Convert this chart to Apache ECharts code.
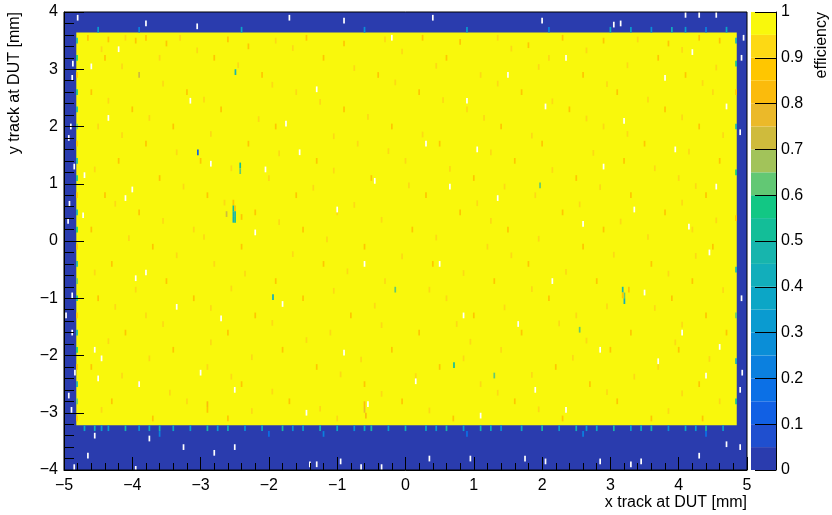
<!DOCTYPE html>
<html>
<head>
<meta charset="utf-8">
<script src="https://cdn.jsdelivr.net/npm/echarts@6/dist/echarts.min.js"></script>
<style>html,body{margin:0;padding:0;background:#fff;}#c{width:832px;height:515px;}</style>
</head>
<body>
<div id="c"></div>
<script>
// ---------------- data ----------------
// big uniform blocks: [x0, x1, y0, y1] and efficiency
const blockX0 = [-5, -4.82];
const blockX1 = [5, 4.85];
const blockY0 = [-4, -3.22];
const blockY1 = [4, 3.64];
const blockEff = [0.0, 0.99];

// bin size of the histogram (mm)
const binW = 0.025;
const binH = 0.1;

// empty bins (no tracks) : [x, y]
const emptyBins = [
  [-4.6,3.05],[-4.35,2.15],[-4.0,0.9],[-3.8,-0.55],[-4.55,-1.9],[-4.45,-2.05],[-3.9,-2.5],[-3.15,2.45],
  [-2.85,1.35],[-2.05,1.25],[-2.7,-1.35],[-2.5,-2.6],[-1.8,-1.1],[-1.3,2.65],[-1.0,0.55],[-0.6,-0.4],
  [-0.55,-2.85],[-0.2,3.55],[0.3,1.7],[0.5,-0.4],[0.9,2.45],[1.05,1.6],[1.35,0.75],[1.65,-1.45],
  [1.9,-2.6],[2.15,-0.7],[2.35,3.2],[2.6,0.3],[2.85,-1.9],[3.2,2.1],[3.5,-0.9],[3.7,-2.1],[3.95,1.6],
  [4.15,0.25],[4.45,-0.2],[4.6,-1.85],[4.4,-2.35],[4.2,3.3],[1.1,-3.05],[-1.45,-3.0],[-4.2,3.35],
  [-4.1,0.75],[-3.95,-0.65],[-4.5,-2.4],[-3.0,-2.3],[-1.75,2.05],[-0.45,1.05],[0.85,-1.3],[2.9,1.3],
  [3.8,2.85],[4.55,0.95],[4.05,-1.6],[-2.2,0.15],[-0.9,-1.95],[0.15,-2.45],[1.5,2.9],[2.35,-2.95],
  [-4.7,1.15],[-4.72,0.45],[-3.35,-1.15],[-1.55,1.55],[0.65,0.95],[2.05,2.35],[3.35,0.55],[4.7,2.35],
  // blue surroundings
  [-4.8,3.9],[-3.8,3.8],[-3.05,3.75],[-1.7,3.9],[0.4,3.9],[3.05,3.78],[4.1,3.95],[4.3,3.95],[4.55,3.95],
  [3.15,3.8],[2.0,3.85],[-0.9,3.85],
  [-4.65,-3.75],[-4.55,-3.4],[-3.75,-3.45],[-3.25,-3.6],[-2.8,-3.7],[-2.5,-3.6],[-1.4,-3.9],[-1.3,-3.9],
  [-0.95,-3.85],[-0.65,-3.95],[-0.35,-3.95],[0.35,-3.8],[0.95,-3.8],[1.75,-3.8],[2.05,-3.85],[2.85,-3.85],
  [3.3,-3.9],[3.45,-3.85],[4.3,-3.75],[4.7,-3.55],[4.9,-3.6],[-4.85,-3.95],[-3.95,-3.98],
  [-4.87,3.1],[-4.88,2.85],[-4.93,1.8],[-4.92,0.65],[-4.94,0.35],[-4.88,-0.95],[-4.97,-1.3],[-4.88,-1.6],
  [-4.84,-2.3],[-4.93,-2.7],[-4.89,-2.95],[-4.85,1.3],[-4.9,2.0],
  [4.92,3.2],[4.9,1.9],[4.92,-1.0],[4.93,-2.3],[4.9,-2.6],[4.95,3.55]
];

// bins with reduced efficiency : [x, y, efficiency]
const lowBins = [
  // streaks inside the sensor
  [-4.65,3.55,0.87],[-4.35,3.52,0.87],[-4.1,3.55,0.9],[-3.95,3.5,0.87],[-3.8,3.55,0.87],[-3.5,3.45,0.87],
  [-3.3,3.55,0.9],[-2.6,3.52,0.87],[-2.3,3.4,0.87],[-1.9,3.5,0.9],[-1.45,3.55,0.87],[-0.9,3.45,0.87],
  [-0.3,3.52,0.9],[0.25,3.55,0.87],[0.8,3.48,0.87],[1.35,3.55,0.9],[1.8,3.42,0.87],[2.3,3.55,0.87],
  [2.9,3.5,0.87],[3.4,3.52,0.9],[3.85,3.45,0.87],[4.3,3.55,0.87],[4.6,3.5,0.87],
  [-4.4,3.2,0.87],[-3.6,3.2,0.9],[-2.8,3.2,0.87],[-1.2,3.2,0.87],[0.6,3.2,0.87],[2.1,3.2,0.9],[3.7,3.2,0.87],
  [-3.9,2.9,0.72],[-2.1,2.9,0.87],[-0.4,2.9,0.87],[1.1,2.9,0.9],[2.6,2.9,0.87],[4.1,2.9,0.87],
  [-4.6,2.6,0.87],[-3.2,2.6,0.87],[-1.6,2.6,0.9],[0.2,2.6,0.87],[1.7,2.6,0.87],[3.1,2.6,0.87],[4.5,2.6,0.9],
  [-4.0,2.3,0.87],[-2.7,2.3,0.87],[-0.9,2.3,0.87],[0.9,2.3,0.9],[2.4,2.3,0.87],[3.8,2.3,0.87],
  [-4.5,2.0,0.9],[-3.4,2.0,0.87],[-1.9,2.0,0.87],[-0.2,2.0,0.87],[1.4,2.0,0.87],[2.9,2.0,0.9],[4.3,2.0,0.87],
  [-3.8,1.7,0.87],[-2.3,1.7,0.87],[-0.7,1.7,0.9],[0.5,1.7,0.87],[2.0,1.7,0.87],[3.5,1.7,0.87],
  [-4.2,1.4,0.87],[-3.0,1.4,0.87],[-1.3,1.4,0.87],[0.0,1.4,0.9],[1.6,1.4,0.87],[3.2,1.4,0.87],[4.6,1.4,0.87],
  [-3.6,1.1,0.87],[-2.0,1.1,0.9],[-0.5,1.1,0.87],[1.0,1.1,0.87],[2.5,1.1,0.87],[4.0,1.1,0.9],
  [-4.4,0.8,0.87],[-2.9,0.8,0.87],[-1.6,0.8,0.87],[0.3,0.8,0.87],[1.9,0.8,0.9],[3.3,0.8,0.87],[4.4,0.8,0.87],
  [-3.9,0.5,0.87],[-2.2,0.5,0.87],[-1.0,0.5,0.9],[0.8,0.5,0.87],[2.3,0.5,0.87],[3.8,0.5,0.87],
  [-4.6,0.2,0.87],[-3.1,0.2,0.9],[-1.5,0.2,0.87],[0.1,0.2,0.87],[1.5,0.2,0.87],[2.9,0.2,0.87],[4.2,0.2,0.9],
  [-3.7,-0.1,0.87],[-2.4,-0.1,0.87],[-0.6,-0.1,0.87],[1.2,-0.1,0.9],[2.6,-0.1,0.87],[4.5,-0.1,0.87],
  [-4.3,-0.4,0.87],[-2.8,-0.4,0.9],[-1.2,-0.4,0.87],[0.4,-0.4,0.87],[1.8,-0.4,0.87],[3.6,-0.4,0.87],
  [-3.5,-0.7,0.87],[-1.9,-0.7,0.87],[-0.3,-0.7,0.9],[1.3,-0.7,0.87],[2.8,-0.7,0.87],[4.2,-0.7,0.87],
  [-4.5,-1.0,0.87],[-3.1,-1.0,0.87],[-1.5,-1.0,0.87],[0.6,-1.0,0.9],[2.1,-1.0,0.87],[3.9,-1.0,0.87],
  [-3.8,-1.3,0.9],[-2.2,-1.3,0.87],[-0.8,-1.3,0.87],[1.0,-1.3,0.87],[2.5,-1.3,0.9],[4.4,-1.3,0.87],
  [-4.1,-1.6,0.87],[-2.6,-1.6,0.87],[-1.1,-1.6,0.9],[0.2,-1.6,0.87],[1.7,-1.6,0.87],[3.3,-1.6,0.87],[4.7,-1.6,0.87],
  [-3.4,-1.9,0.87],[-1.8,-1.9,0.87],[-0.2,-1.9,0.87],[1.4,-1.9,0.9],[3.0,-1.9,0.87],[4.0,-1.9,0.87],
  [-4.6,-2.2,0.87],[-2.9,-2.2,0.9],[-1.3,-2.2,0.87],[0.5,-2.2,0.87],[2.2,-2.2,0.87],[3.7,-2.2,0.9],
  [-3.9,-2.5,0.87],[-2.4,-2.5,0.87],[-0.6,-2.5,0.87],[1.1,-2.5,0.9],[2.7,-2.5,0.87],[4.3,-2.5,0.87],
  [-4.3,-2.8,0.87],[-3.2,-2.8,0.9],[-1.7,-2.8,0.87],[-0.05,-2.8,0.87],[1.6,-2.8,0.87],[3.1,-2.8,0.87],[4.6,-2.8,0.9],
  [-3.7,-3.1,0.87],[-2.6,-3.1,0.87],[-1.0,-3.1,0.9],[0.7,-3.1,0.87],[2.3,-3.1,0.87],[3.6,-3.1,0.87],
  [-0.6,-2.85,0.8],[-0.6,-2.95,0.78],[-0.58,-3.05,0.8],[-2.9,-2.85,0.8],[-2.9,-2.95,0.85],
  // further pale streaks (between the rows above)
  [-4.45,3.35,0.92],[-3.05,3.33,0.92],[-1.65,3.37,0.92],[-0.05,3.31,0.92],[1.55,3.36,0.92],[2.65,3.33,0.92],[4.05,3.34,0.92],
  [-4.15,3.05,0.92],[-2.45,3.07,0.92],[-0.75,3.02,0.92],[0.45,3.06,0.92],[1.95,3.04,0.92],[3.25,3.07,0.92],[4.55,3.03,0.92],
  [-3.55,2.75,0.92],[-1.95,2.73,0.92],[-0.15,2.77,0.92],[1.35,2.75,0.92],[2.95,2.74,0.92],[4.35,2.76,0.92],
  [-4.35,2.45,0.92],[-2.95,2.47,0.92],[-1.25,2.43,0.92],[0.55,2.46,0.92],[2.15,2.44,0.92],[3.55,2.47,0.92],
  [-3.75,2.15,0.92],[-2.15,2.13,0.92],[-0.55,2.17,0.92],[1.15,2.15,0.92],[2.65,2.14,0.92],[4.05,2.16,0.92],
  [-4.15,1.85,0.92],[-2.85,1.87,0.92],[-1.05,1.83,0.92],[0.25,1.86,0.92],[1.85,1.84,0.92],[3.25,1.87,0.92],[4.65,1.85,0.92],
  [-3.35,1.55,0.92],[-1.85,1.53,0.92],[-0.25,1.57,0.92],[1.25,1.55,0.92],[2.75,1.54,0.92],[4.15,1.56,0.92],
  [-4.55,1.25,0.92],[-2.55,1.27,0.92],[-1.05,1.23,0.92],[0.65,1.26,0.92],[2.15,1.24,0.92],[3.65,1.27,0.92],
  [-3.25,0.95,0.92],[-1.35,0.93,0.92],[0.05,0.97,0.92],[1.45,0.95,0.92],[2.85,0.94,0.92],[4.25,0.96,0.92],
  [-4.25,0.65,0.92],[-2.65,0.67,0.92],[-0.75,0.63,0.92],[1.05,0.66,0.92],[2.55,0.64,0.92],[4.05,0.67,0.92],
  [-3.55,0.35,0.92],[-1.85,0.33,0.92],[-0.35,0.37,0.92],[1.25,0.35,0.92],[3.15,0.34,0.92],[4.55,0.36,0.92],
  [-4.05,0.05,0.92],[-2.95,0.07,0.92],[-1.15,0.03,0.92],[0.45,0.06,0.92],[1.95,0.04,0.92],[3.55,0.07,0.92],
  [-3.35,-0.25,0.92],[-1.65,-0.23,0.92],[-0.05,-0.27,0.92],[1.55,-0.25,0.92],[3.05,-0.24,0.92],[4.25,-0.26,0.92],
  [-4.55,-0.55,0.92],[-2.35,-0.57,0.92],[-0.85,-0.53,0.92],[0.85,-0.56,0.92],[2.35,-0.54,0.92],[3.85,-0.57,0.92],
  [-3.95,-0.85,0.92],[-2.55,-0.83,0.92],[-1.05,-0.87,0.92],[0.35,-0.85,0.92],[1.85,-0.84,0.92],[4.65,-0.86,0.92],
  [-4.25,-1.15,0.92],[-2.85,-1.17,0.92],[-0.45,-1.13,0.92],[1.45,-1.16,0.92],[2.95,-1.14,0.92],[3.65,-1.17,0.92],
  [-3.55,-1.45,0.92],[-1.95,-1.43,0.92],[-0.35,-1.47,0.92],[0.75,-1.45,0.92],[2.25,-1.44,0.92],[4.05,-1.46,0.92],
  [-4.35,-1.75,0.92],[-2.85,-1.77,0.92],[-1.45,-1.73,0.92],[0.95,-1.76,0.92],[2.65,-1.74,0.92],[3.95,-1.77,0.92],
  [-3.75,-2.05,0.92],[-2.25,-2.03,0.92],[-0.65,-2.07,0.92],[0.85,-2.05,0.92],[2.45,-2.04,0.92],[4.45,-2.06,0.92],
  [-4.15,-2.35,0.92],[-2.55,-2.37,0.92],[-0.95,-2.33,0.92],[0.15,-2.36,0.92],[1.85,-2.34,0.92],[3.35,-2.37,0.92],
  [-3.45,-2.65,0.92],[-1.95,-2.63,0.92],[-0.35,-2.67,0.92],[1.35,-2.65,0.92],[2.95,-2.64,0.92],[4.05,-2.66,0.92],
  [-4.45,-2.95,0.92],[-2.25,-2.97,0.92],[-1.25,-2.93,0.92],[0.35,-2.96,0.92],[1.95,-2.94,0.92],[3.85,-2.97,0.92],[4.35,-3.1,0.87],
  // local defects
  [-2.52,0.67,0.85],[-2.52,0.57,0.5],[-2.52,0.47,0.45],[-2.52,0.37,0.4],[-2.495,0.57,0.85],
  [-2.495,0.47,0.45],[-2.495,0.37,0.5],[-2.62,0.47,0.72],[-2.4,0.42,0.85],
  [-2.42,1.32,0.5],[-2.42,1.22,0.6],
  [3.18,-0.85,0.45],[3.205,-0.95,0.6],[3.205,-1.05,0.4],[3.18,-0.95,0.85],[3.27,-0.85,0.87],
  [-3.04,1.55,0.12],[1.97,0.97,0.62],[0.71,-2.17,0.5],[-1.94,-0.98,0.4],[-2.49,2.95,0.45],
  [2.55,-1.55,0.62],[-0.15,-0.85,0.62],[1.3,-2.35,0.62],
  // left edge column
  [-4.81,3.5,0.45],[-4.81,3.2,0.55],[-4.81,2.9,0.85],[-4.81,2.6,0.5],[-4.81,2.3,0.45],[-4.81,2.0,0.6],
  [-4.81,1.7,0.85],[-4.81,1.4,0.45],[-4.81,1.1,0.5],[-4.81,0.8,0.85],[-4.81,0.5,0.4],[-4.81,0.2,0.55],
  [-4.81,-0.1,0.85],[-4.81,-0.4,0.45],[-4.81,-0.7,0.6],[-4.81,-1.0,0.5],[-4.81,-1.3,0.85],[-4.81,-1.6,0.45],
  [-4.81,-1.9,0.55],[-4.81,-2.2,0.85],[-4.81,-2.5,0.4],[-4.81,-2.8,0.6],[-4.81,-3.1,0.85],
  // right edge column
  [4.84,3.5,0.4],[4.84,3.1,0.5],[4.84,2.6,0.85],[4.84,2.0,0.45],[4.84,1.2,0.55],[4.84,0.4,0.85],
  [4.84,-0.5,0.45],[4.84,-1.3,0.6],[4.84,-2.1,0.4],[4.84,-2.8,0.5],
  // bottom edge row
  [-4.7,-3.27,0.35],[-4.55,-3.27,0.4],[-4.35,-3.27,0.3],[-4.1,-3.27,0.45],[-3.9,-3.27,0.25],[-3.6,-3.27,0.4],
  [-3.4,-3.27,0.35],[-3.15,-3.27,0.3],[-2.9,-3.27,0.45],[-2.6,-3.27,0.4],[-2.35,-3.27,0.25],[-2.1,-3.27,0.35],
  [-1.8,-3.27,0.45],[-1.5,-3.27,0.3],[-1.25,-3.27,0.4],[-1.0,-3.27,0.35],[-0.75,-3.27,0.25],[-0.5,-3.27,0.45],
  [-0.25,-3.27,0.3],[0.0,-3.27,0.4],[0.3,-3.27,0.35],[0.6,-3.27,0.45],[0.85,-3.27,0.3],[1.1,-3.27,0.4],
  [1.4,-3.27,0.25],[1.7,-3.27,0.35],[2.0,-3.27,0.45],[2.25,-3.27,0.3],[2.5,-3.27,0.4],[2.8,-3.27,0.35],
  [3.05,-3.27,0.45],[3.3,-3.27,0.3],[3.6,-3.27,0.4],[3.85,-3.27,0.25],[4.1,-3.27,0.35],[4.4,-3.27,0.45],[4.65,-3.27,0.3],
  [-4.45,-3.27,0.3],[-3.75,-3.27,0.35],[-2.75,-3.27,0.3],[-1.65,-3.27,0.25],[-0.6,-3.27,0.35],[0.45,-3.27,0.3],
  [1.25,-3.27,0.35],[2.65,-3.27,0.3],[3.45,-3.27,0.35],[4.25,-3.27,0.3],
  [-3.6,-3.37,0.2],[-2.0,-3.37,0.15],[-1.2,-3.37,0.2],[0.9,-3.37,0.15],[2.6,-3.37,0.2],[4.4,-3.37,0.15],
  // top edge row
  [-4.5,3.69,0.3],[-3.9,3.69,0.2],[-2.4,3.69,0.35],[-0.6,3.69,0.25],[0.9,3.69,0.3],[2.1,3.69,0.2],
  [3.0,3.69,0.35],[3.3,3.69,0.3],[3.6,3.69,0.25],[3.9,3.69,0.4],[4.1,3.69,0.3],[4.4,3.69,0.2],[4.7,3.69,0.35]
];

// colour scale: lower edge of each of the 20 contour levels and its colour
const levels = [0,0.05,0.1,0.15,0.2,0.25,0.3,0.35,0.4,0.45,0.5,0.55,0.6,0.65,0.7,0.75,0.8,0.85,0.9,0.95];
const levelColors = ['#2a3cae','#1f4fcf','#1160e4','#0b70e6','#0b80df','#0a8ed7','#0a9bd0','#0ca6c6',
  '#12aebb','#17b5ad','#13be98','#12c784','#62c874','#a2c35a','#cfbb3c','#ebb929','#fbbb0c','#ffc600',
  '#fdd914','#f9f80c'];

const xTicks = {min: -5, max: 5, step: 1};
const yTicks = {min: -4, max: 4, step: 1};

// ---------------- build series data ----------------
const cellData = [];
for (let i = 0; i < blockX0.length; i++) cellData.push([blockX0[i], blockX1[i], blockY0[i], blockY1[i], blockEff[i]]);
lowBins.forEach(b => cellData.push([b[0]-binW/2, b[0]+binW/2, b[1]-binH/2, b[1]+binH/2, b[2]]));
emptyBins.forEach(b => cellData.push([b[0]-binW/2, b[0]+binW/2, b[1]-binH/2, b[1]+binH/2, -1]));

const barData = levels.map(l => [0, 1, l, l + 0.05, l + 0.025]);

const pieces = levels.map((l, i) => i === levels.length - 1 ? {gte: l, lte: 1.0001, color: levelColors[i]} : {gte: l, lt: levels[i+1], color: levelColors[i]});
pieces.push({lt: -0.5, color: '#ffffff'});

function renderCell(params, api) {
  const p0 = api.coord([api.value(0), api.value(3)]);
  const p1 = api.coord([api.value(1), api.value(2)]);
  const cs = params.coordSys;
  const shape = echarts.graphic.clipRectByRect(
    {x: p0[0], y: p0[1], width: p1[0]-p0[0], height: p1[1]-p0[1]},
    {x: cs.x, y: cs.y, width: cs.width, height: cs.height});
  if (!shape) return;
  return {type: 'rect', shape: shape, style: {fill: api.visual('color')}};
}

const FONT = '"Liberation Sans", Arial, Helvetica, sans-serif';
const minusFmt = v => (v < 0 ? '\u2212' + Math.abs(v) : String(v));

const chart = echarts.init(document.getElementById('c'), null, {renderer: 'canvas'});
chart.setOption({
  animation: false,
  backgroundColor: '#ffffff',
  textStyle: {fontFamily: FONT},
  grid: [
    {left: 64, top: 12, width: 683, height: 458, show: true, borderColor: '#000', borderWidth: 1, backgroundColor: 'transparent', z: 10},
    {left: 751, top: 12, width: 25, height: 458}
  ],
  visualMap: {type: 'piecewise', show: false, dimension: 4, seriesIndex: [0, 1], pieces: pieces},
  xAxis: [
    {type: 'value', gridIndex: 0, min: xTicks.min, max: xTicks.max, interval: xTicks.step, z: 10,
     axisLine: {show: true, onZero: false, lineStyle: {color: '#000', width: 1}},
     axisTick: {show: true, inside: true, length: 13, lineStyle: {color: '#000'}},
     minorTick: {show: true, splitNumber: 5, length: 7, lineStyle: {color: '#000'}},
     splitLine: {show: false},
     axisLabel: {fontSize: 16, color: '#000', margin: 8, fontFamily: FONT, formatter: minusFmt}},
    {type: 'value', gridIndex: 1, min: 0, max: 1, show: false}
  ],
  yAxis: [
    {type: 'value', gridIndex: 0, min: yTicks.min, max: yTicks.max, interval: yTicks.step, z: 10,
     axisLine: {show: true, onZero: false, lineStyle: {color: '#000', width: 1}},
     axisTick: {show: true, inside: true, length: 20, lineStyle: {color: '#000'}},
     minorTick: {show: true, splitNumber: 5, length: 10, lineStyle: {color: '#000'}},
     splitLine: {show: false},
     axisLabel: {fontSize: 16, color: '#000', margin: 6, fontFamily: FONT, formatter: minusFmt}},
    {type: 'value', gridIndex: 1, min: 0, max: 1, interval: 0.1, position: 'right', z: 10,
     axisLine: {show: true, onZero: false, lineStyle: {color: '#000', width: 1}},
     axisTick: {show: true, inside: true, length: 21, lineStyle: {color: '#000'}},
     splitLine: {show: false},
     axisLabel: {fontSize: 16, color: '#000', margin: 5, fontFamily: FONT}}
  ],
  series: [
    {type: 'custom', xAxisIndex: 0, yAxisIndex: 0, renderItem: renderCell, data: cellData,
     encode: {x: [0, 1], y: [2, 3]}, clip: true, silent: true},
    {type: 'custom', xAxisIndex: 1, yAxisIndex: 1, renderItem: renderCell, data: barData,
     encode: {x: [0, 1], y: [2, 3]}, silent: true}
  ],
  graphic: [
    {type: 'text', x: 747, y: 503, style: {text: 'x track at DUT [mm]', textAlign: 'right', textVerticalAlign: 'middle', font: '16px ' + FONT, fill: '#000'}},
    {type: 'text', x: 15, y: 12, rotation: Math.PI / 2, style: {text: 'y track at DUT [mm]', textAlign: 'right', textVerticalAlign: 'middle', font: '16px ' + FONT, fill: '#000'}},
    {type: 'text', x: 822, y: 12, rotation: Math.PI / 2, style: {text: 'efficiency', textAlign: 'right', textVerticalAlign: 'middle', font: '16px ' + FONT, fill: '#000'}}
  ]
});
</script>
</body>
</html>
